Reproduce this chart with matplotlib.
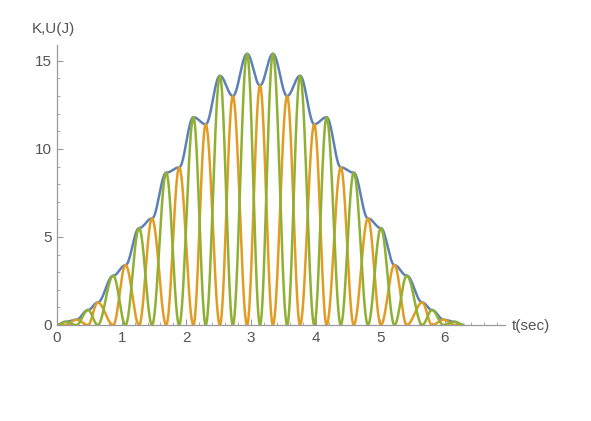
"""Kinetic / potential energy of a driven oscillator, Mathematica-style axes."""

import numpy as np
import matplotlib

matplotlib.use("Agg")
import matplotlib.pyplot as plt

# peak times (s) and heights (J), alternating U (green) / K (orange)
peak_t = [0.00, 0.13, 0.30, 0.48, 0.63, 0.87, 1.06, 1.27, 1.47, 1.69, 1.89, 2.11, 2.30,
          2.52, 2.72, 2.94, 3.14, 3.34, 3.56, 3.76, 3.98, 4.17, 4.39, 4.59, 4.81, 5.01,
          5.22, 5.41, 5.65, 5.80, 5.98, 6.15, 6.28]
peak_h = [0.00, 0.18, 0.30, 0.85, 1.28, 2.80, 3.40, 5.50, 6.05, 8.65, 8.95, 11.80, 11.40,
          14.15, 13.00, 15.40, 13.60, 15.40, 13.00, 14.15, 11.40, 11.80, 8.95, 8.65, 6.05,
          5.50, 3.40, 2.80, 1.28, 0.85, 0.30, 0.18, 0.00]
peak_kind = ["K", "U"] * 16 + ["K"]

x_ticks = [0, 1, 2, 3, 4, 5, 6]
y_ticks = [0, 5, 10, 15]

BLUE = "#5E81B5"
ORANGE = "#E19C24"
GREEN = "#8FB032"
AXIS_GRAY = "#9a9a9a"
TEXT_GRAY = "#555555"


def build_curves():
    t_all, k_all, u_all = [], [], []
    for i in range(len(peak_t) - 1):
        s = np.linspace(0.0, 1.0, 40)
        t = peak_t[i] + (peak_t[i + 1] - peak_t[i]) * s
        falling = peak_h[i] * np.cos(0.5 * np.pi * s) ** 2
        rising = peak_h[i + 1] * np.sin(0.5 * np.pi * s) ** 2
        if peak_kind[i] == "K":
            k, u = falling, rising
        else:
            k, u = rising, falling
        t_all.append(t)
        k_all.append(k)
        u_all.append(u)
    return np.concatenate(t_all), np.concatenate(k_all), np.concatenate(u_all)


def main() -> None:
    plt.rcParams["font.family"] = ["Liberation Sans", "DejaVu Sans"]
    t, kin, pot = build_curves()

    fig = plt.figure(figsize=(5.91, 4.21), dpi=100)
    ax = fig.add_axes([57 / 591, 1 - 325 / 421, (505 - 57) / 591, (325 - 45) / 421])

    ax.plot(t, kin + pot, color=BLUE, lw=1.8)
    ax.plot(t, kin, color=ORANGE, lw=1.8)
    ax.plot(t, pot, color=GREEN, lw=1.8)

    ax.set_xlim(0, 6.93)
    ax.set_ylim(0, 15.9)
    for side in ("top", "right"):
        ax.spines[side].set_visible(False)
    for side in ("left", "bottom"):
        ax.spines[side].set_color(AXIS_GRAY)
        ax.spines[side].set_linewidth(0.9)

    ax.set_xticks(x_ticks)
    ax.set_yticks(y_ticks)
    ax.set_xticks(np.arange(0, 6.9, 0.2), minor=True)
    ax.set_yticks(np.arange(0, 15.9, 1.0), minor=True)
    ax.tick_params(which="major", direction="in", length=4, width=0.8, color=AXIS_GRAY,
                   labelsize=11, labelcolor=TEXT_GRAY, pad=4)
    ax.tick_params(which="minor", direction="in", length=2.2, width=0.6, color=AXIS_GRAY)

    fig.text(32 / 591, 1 - 29 / 421, "K,U(J)", ha="left", va="center", fontsize=11, color=TEXT_GRAY)
    fig.text(512 / 591, 1 - 326 / 421, "t(sec)", ha="left", va="center", fontsize=11, color=TEXT_GRAY)

    fig.savefig("out.png", dpi=100)
    plt.close(fig)


if __name__ == "__main__":
    main()
